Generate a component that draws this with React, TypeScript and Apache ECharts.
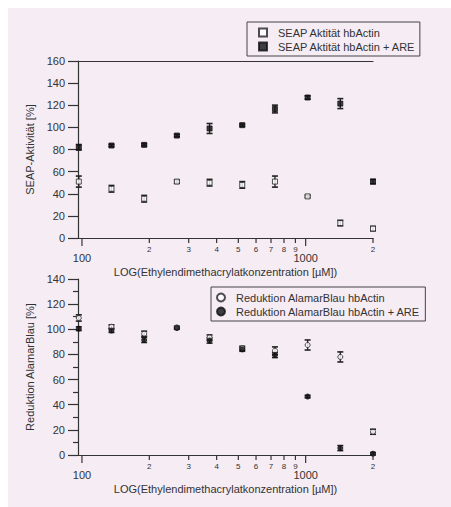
import React, { useEffect, useRef } from "react";
import * as echarts from "echarts";

// Concentrations (µM) (dilution series)
const conc = [96.8, 135.5, 189.7, 265.6, 371.9, 520.6, 728.9, 1020.4, 1428.6, 2000];

// Top chart: SEAP activity [%]
const seapHb = [51, 44.5, 35.5, 51, 50, 48, 51, 37.6, 13.5, 8.5];
const seapHbErr = [5, 3, 3, 1.5, 3, 3, 5, 1, 2.5, 2];
const seapAre = [82, 83.6, 84.2, 92.6, 99, 102, 116.6, 127, 121.5, 51];
const seapAreErr = [2.5, 1, 1, 1, 4.5, 1, 3.5, 1.5, 4.5, 2];

// Bottom chart: AlamarBlue reduction [%]
const alamarHb = [109, 102, 96.5, 101.5, 93.5, 85, 83, 87.5, 78, 18.5];
const alamarHbErr = [2.5, 1.5, 2, 1, 2, 1.5, 3, 4, 4, 2];
const alamarAre = [100.5, 99, 91.5, 101, 91, 84, 79.5, 46.5, 5.5, 1];
const alamarAreErr = [1.5, 1.5, 2, 1, 2, 1.5, 2, 1, 2, 1];

// X tick values and labels (log axis)
const xTickValues = [100, 200, 300, 400, 500, 600, 700, 800, 900, 1000, 2000];
const xTickLabels = ["100", "2", "3", "4", "5", "6", "7", "8", "9", "1000", "2"];
const xTickMajor = [1, 0, 0, 0, 0, 0, 0, 0, 0, 1, 0];

const names = {
  s1: "SEAP Aktität hbActin",
  s2: "SEAP Aktität hbActin + ARE",
  a1: "Reduktion AlamarBlau hbActin",
  a2: "Reduktion AlamarBlau hbActin + ARE",
};

const FONT = "'Liberation Sans', Arial, Helvetica, sans-serif";
const INK = "#333";
const BG = "#f6ecf4";

function pts(vals: number[]) {
  return vals.map((v, i) => [conc[i], v]);
}
function errs(vals: number[], e: number[]) {
  return vals.map((v, i) => [conc[i], v - e[i], v + e[i]]);
}

function errorSeries(data: number[][], gi: number) {
  return {
    type: "custom",
    xAxisIndex: gi === 0 ? 0 : 2,
    yAxisIndex: gi,
    silent: true,
    clip: false,
    z: 3,
    data,
    renderItem: (params: any, api: any) => {
      const x = api.value(0);
      const lo = api.coord([x, api.value(1)]);
      const hi = api.coord([x, api.value(2)]);
      const w = 3;
      const st = { stroke: "#222", lineWidth: 1.3 };
      return {
        type: "group",
        children: [
          { type: "line", shape: { x1: lo[0], y1: lo[1], x2: hi[0], y2: hi[1] }, style: st },
          { type: "line", shape: { x1: hi[0] - w, y1: hi[1], x2: hi[0] + w, y2: hi[1] }, style: { ...st, lineWidth: 1.6 } },
          { type: "line", shape: { x1: lo[0] - w, y1: lo[1], x2: lo[0] + w, y2: lo[1] }, style: { ...st, lineWidth: 1.6 } },
        ],
      };
    },
  };
}

function tickSeries(gi: number) {
  return {
    type: "custom",
    xAxisIndex: gi === 0 ? 0 : 2,
    yAxisIndex: gi,
    silent: true,
    clip: false,
    z: 5,
    data: xTickValues.map((v, i) => [v, 0, xTickMajor[i]]),
    renderItem: (params: any, api: any) => {
      const i = params.dataIndex;
      const major = api.value(2) === 1;
      const p = api.coord([api.value(0), api.value(1)]);
      const len = major ? 8 : 5;
      return {
        type: "group",
        children: [
          {
            type: "line",
            shape: { x1: p[0], y1: p[1], x2: p[0], y2: p[1] + len },
            style: { stroke: INK, lineWidth: 1.2 },
          },
          {
            type: "text",
            x: p[0],
            y: p[1] + (major ? 20 : 11),
            style: {
              text: xTickLabels[i],
              fill: INK,
              font: (major ? "11px " : "8px ") + FONT,
              textAlign: "center",
              textVerticalAlign: "middle",
              align: "center",
              verticalAlign: "middle",
            },
          },
        ],
      };
    },
  };
}

const xTitle = "LOG(Ethylendimethacrylatkonzentration [µM])";

function xAxisBase(gi: number, extra: any) {
  return {
    type: "log",
    logBase: 10,
    gridIndex: gi,
    min: 96,
    max: 2000,
    axisLine: { show: true, lineStyle: { color: INK, width: 1.2 } },
    axisTick: { show: false },
    axisLabel: { show: false },
    splitLine: { show: false },
    minorTick: { show: false },
    minorSplitLine: { show: false },
    ...extra,
  };
}

function yAxisBase(gi: number, max: number, name: string, minor: boolean) {
  return {
    type: "value",
    gridIndex: gi,
    min: 0,
    max,
    interval: 20,
    name,
    nameLocation: "middle",
    nameGap: 40,
    nameTextStyle: { fontSize: 11, color: INK, fontFamily: FONT },
    axisLine: { show: true, lineStyle: { color: INK, width: 1.2 } },
    axisTick: { show: true, length: 10, lineStyle: { color: INK, width: 1.2 } },
    minorTick: { show: minor, splitNumber: 2, length: 5, lineStyle: { color: INK, width: 1.2 } },
    axisLabel: { fontSize: 11, color: INK, margin: 13, fontFamily: FONT },
    splitLine: { show: false },
  };
}

export default function App() {
  const ref = useRef<HTMLDivElement>(null);
  useEffect(() => {
    if (!ref.current) return;
    const chart = echarts.init(ref.current, null, { renderer: "svg" });
    const option: any = {
      animation: false,
      backgroundColor: BG,
      textStyle: { fontFamily: FONT, color: INK },
      grid: [
        { left: 70, top: 53, width: 295, height: 177 },
        { left: 70, top: 271, width: 295, height: 176 },
      ],
      xAxis: [
        xAxisBase(0, {
          position: "bottom",
          name: xTitle,
          nameLocation: "middle",
          nameGap: 28,
          nameTextStyle: { fontSize: 11, color: INK, fontFamily: FONT },
        }),
        xAxisBase(0, { position: "top" }),
        xAxisBase(1, {
          position: "bottom",
          name: xTitle,
          nameLocation: "middle",
          nameGap: 28,
          nameTextStyle: { fontSize: 11, color: INK, fontFamily: FONT },
        }),
      ],
      yAxis: [
        yAxisBase(0, 160, "SEAP-Aktivität [%]", false),
        yAxisBase(1, 140, "Reduktion AlamarBlau [%]", true),
      ],
      legend: [
        {
          orient: "vertical",
          left: 239,
          top: 14,
          itemWidth: 8,
          itemHeight: 8,
          itemGap: 3,
          padding: [5, 4, 4, 11],
          borderColor: "#444",
          borderWidth: 1,
          textStyle: { fontSize: 11, color: INK, fontFamily: FONT, padding: [0, 0, 0, 6] },
          data: [names.s1, names.s2],
        },
        {
          orient: "vertical",
          left: 203,
          top: 279,
          itemWidth: 20,
          itemHeight: 8,
          itemGap: 3,
          padding: [5, 5, 4, 5],
          borderColor: "#444",
          borderWidth: 1,
          textStyle: { fontSize: 11, color: INK, fontFamily: FONT },
          data: [names.a1, names.a2],
        },
      ],
      series: [
        errorSeries(errs(seapHb, seapHbErr), 0),
        errorSeries(errs(seapAre, seapAreErr), 0),
        errorSeries(errs(alamarHb, alamarHbErr), 1),
        errorSeries(errs(alamarAre, alamarAreErr), 1),
        {
          name: names.s1,
          type: "scatter",
          xAxisIndex: 0,
          yAxisIndex: 0,
          symbol: "rect",
          symbolSize: 5,
          itemStyle: { color: "#fff", borderColor: "#222", borderWidth: 1 },
          data: pts(seapHb),
          z: 4,
        },
        {
          name: names.s2,
          type: "scatter",
          xAxisIndex: 0,
          yAxisIndex: 0,
          symbol: "rect",
          symbolSize: 5,
          itemStyle: { color: "#111", borderColor: "#111", borderWidth: 1 },
          data: pts(seapAre),
          z: 4,
        },
        {
          name: names.a1,
          type: "scatter",
          xAxisIndex: 2,
          yAxisIndex: 1,
          symbol: "circle",
          symbolSize: 5,
          itemStyle: { color: "#fff", borderColor: "#222", borderWidth: 1 },
          data: pts(alamarHb),
          z: 4,
        },
        {
          name: names.a2,
          type: "scatter",
          xAxisIndex: 2,
          yAxisIndex: 1,
          symbol: "circle",
          symbolSize: 5,
          itemStyle: { color: "#111", borderColor: "#111", borderWidth: 1 },
          data: pts(alamarAre),
          z: 4,
        },
        tickSeries(0),
        tickSeries(1),
      ],
    };
    chart.setOption(option);
    return () => chart.dispose();
  }, []);
  return (
    <div
      ref={ref}
      style={{ position: "fixed", left: 8, top: 8, width: 443, height: 499, background: BG }}
    />
  );
}
